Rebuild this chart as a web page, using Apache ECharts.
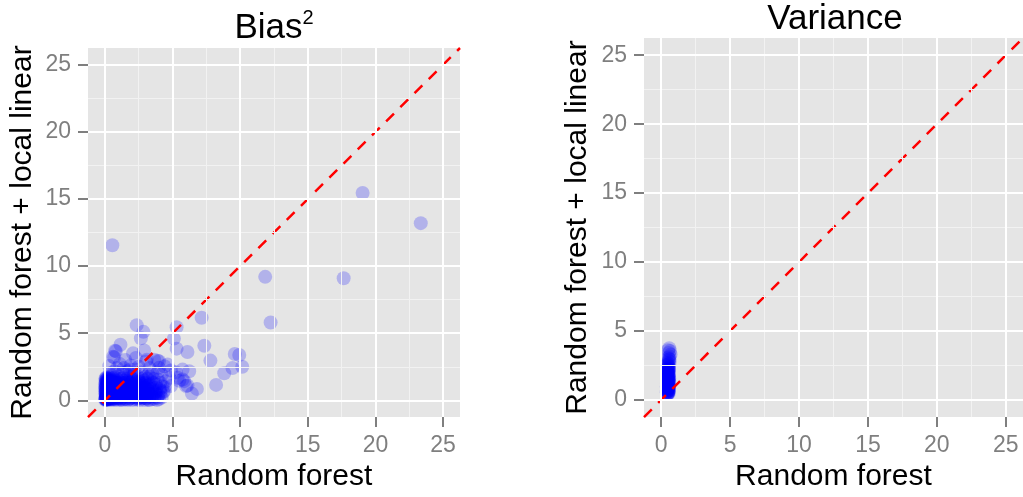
<!DOCTYPE html>
<html><head><meta charset="utf-8">
<script src="https://cdn.jsdelivr.net/npm/echarts@6/dist/echarts.min.js"></script>
<style>html,body{margin:0;padding:0;background:#fff}#c{width:1023px;height:497px}</style>
</head><body><div id="c"></div>
<script>
// ---- data ----
const panelTitles = ['Bias', 'Variance'];
const titleSup = '2';
const xTitle = 'Random forest';
const yTitle = 'Random forest + local linear';
const tickValues = [0, 5, 10, 15, 20, 25];
const minorValues = [2.5, 7.5, 12.5, 17.5, 22.5];
const axisMin = -1.25, axisMax = 26.25;
const refLine = [[-1.25, -1.25], [26.25, 26.25]];

const biasPoints = [
 // dense core
 [0.02,0.02],[0.05,0.1],[0.1,0.05],[0.15,0.15],[0.03,0.25],[0.2,0.3],[0.08,0.35],[0.25,0.1],[0.3,0.22],[0.12,0.45],
 [0.04,0.55],[0.22,0.5],[0.35,0.4],[0.18,0.62],[0.06,0.72],[0.28,0.7],[0.4,0.6],[0.14,0.82],[0.32,0.88],[0.05,0.95],
 [0.22,1.0],[0.45,0.85],[0.1,1.1],[0.3,1.12],[0.02,1.22],[0.18,1.3],[0.4,1.25],[0.08,1.42],[0.26,1.48],[0.12,1.6],
 [0.35,1.55],[0.5,0.05],[0.55,0.3],[0.45,0.2],[0.6,0.5],[0.52,0.72],[0.6,0.95],[0.5,1.1],[0.58,1.35],[0.48,1.5],
 [0.01,0.65],[0.16,0.02],[0.38,0.08],[0.07,0.18],[0.27,0.35],[0.42,0.45],[0.1,0.58],[0.34,0.65],[0.2,0.78],[0.03,0.85],
 [0.38,1.0],[0.15,1.18],[0.28,1.35],[0.05,1.5],[0.2,1.65],
 [0.08,0.08],[0.18,0.22],[0.28,0.05],[0.12,0.3],[0.35,0.28],[0.06,0.42],[0.24,0.6],[0.42,0.32],[0.16,0.9],[0.3,0.78],
 [0.44,0.7],[0.09,1.02],[0.26,1.2],[0.14,1.38],[0.36,1.4],[0.04,1.3],[0.02,0.12],[0.22,0.15],[0.4,0.15],[0.55,0.15],
 [0.1,0.22],[0.32,0.5],[0.5,0.4],[0.65,0.35],[0.02,1.02],[0.45,1.05],[0.58,1.2],[0.8,1.42],[0.62,1.62],[0.32,1.7],[0.1,1.7],
 [0.05,0.05],[0.15,0.08],[0.25,0.18],[0.35,0.12],[0.45,0.08],[0.12,0.28],[0.22,0.4],[0.32,0.32],[0.06,0.48],[0.16,0.52],
 [0.28,0.58],[0.38,0.5],[0.08,0.66],[0.2,0.7],[0.3,0.62],[0.42,0.78],[0.12,0.74],[0.24,0.88],[0.36,0.95],[0.06,0.88],
 [0.18,1.05],[0.3,1.02],[0.42,1.15],[0.08,1.22],[0.2,1.42],[0.34,1.28],[0.12,1.52],[0.25,1.58],[0.04,1.62],[0.4,1.62],
 [0.65,0.05],[0.7,0.2],[0.8,0.1],[0.75,0.4],[0.9,0.3],[0.85,0.6],[0.7,0.7],[1.0,0.15],[1.05,0.45],[0.95,0.8],
 [0.8,0.95],[1.15,0.05],[1.2,0.3],[1.1,0.7],[1.25,0.55],[1.3,0.9],[1.0,1.05],[0.85,1.2],[0.7,1.3],[1.15,1.2],
 [1.35,0.2],[1.4,0.5],[1.45,0.8],[1.3,1.3],[1.05,1.45],[0.9,1.55],[1.2,1.6],[1.45,1.15],[0.75,1.7],[1.0,1.8],
 [1.4,1.7],[0.68,0.55],[0.88,0.02],[1.28,0.02],[1.48,0.08],[0.78,0.82],[1.12,0.92],[0.95,1.3],[1.38,1.45],
 [0.62,0.15],[0.72,0.35],[0.82,0.25],[0.92,0.5],[0.66,0.85],[0.86,0.78],[1.02,0.6],[1.08,0.3],[1.22,0.15],[1.18,0.82],
 [0.76,1.05],[0.98,1.15],[1.32,0.42],[1.42,0.65],[1.36,1.05],[1.1,1.35],
 [0.55,0.6],[0.65,0.25],[0.75,0.12],[0.85,0.45],[0.95,0.15],[0.7,0.95],[0.9,1.05],[1.05,0.25],[1.15,0.55],[1.25,0.8],
 [0.6,1.45],[0.85,1.35],[1.15,1.05],[1.35,0.65],[1.45,0.35],[0.5,0.25],[0.6,0.7],[0.8,0.6],[1.0,0.4],[1.2,0.1],[1.4,0.95],
 [1.55,0.1],[1.7,0.3],[1.6,0.55],[1.85,0.15],[1.9,0.5],[1.75,0.8],[2.0,0.3],[2.1,0.7],[1.95,1.0],[1.65,1.1],
 [1.8,1.35],[2.2,0.1],[2.3,0.45],[2.25,0.9],[2.1,1.25],[2.4,0.75],[2.5,0.2],[2.55,1.05],[2.35,1.4],[2.0,1.6],
 [1.6,1.6],[2.65,0.5],[2.7,0.85],[2.6,1.35],[2.8,0.2],[2.9,0.6],[2.85,1.1],[2.45,1.75],[2.75,1.6],[2.95,0.02],
 [2.15,1.9],[1.75,1.85],[2.9,1.5],[2.6,0.02],[2.05,0.02],[1.7,0.02],[2.38,0.05],[1.58,0.85],[2.18,0.52],[2.48,0.45],
 [2.78,0.4],[2.95,0.95],
 [1.58,0.35],[1.68,0.6],[1.82,0.42],[1.98,0.65],[1.72,1.0],[1.88,1.2],[2.08,0.45],[2.28,0.25],[2.2,0.75],[2.42,0.95],
 [2.32,1.15],[2.58,0.7],[2.52,0.35],[2.68,0.25],[2.72,1.2],[2.85,0.85],[1.62,1.35],[2.02,1.4],[2.45,1.55],[1.92,1.75],
 [1.55,0.6],[1.65,0.2],[1.75,0.55],[1.85,0.95],[1.95,0.2],[2.05,0.55],[2.15,0.95],[2.25,0.35],[2.35,0.65],[2.45,0.15],
 [2.55,0.55],[2.65,0.85],[2.75,0.15],[2.85,0.5],[2.95,0.3],[1.5,1.3],[1.7,1.45],[1.9,1.3],[2.1,1.55],[2.3,1.3],
 [2.5,1.4],[2.7,1.05],[2.9,1.25],[1.6,0.75],[1.8,0.1],[2.0,0.85],[2.2,0.2],[2.4,0.35],[2.6,0.65],[2.8,0.7],
 [3.05,0.15],[3.15,0.5],[3.3,0.25],[3.1,0.85],[3.4,0.65],[3.25,1.15],[3.5,0.1],[3.6,0.45],[3.55,0.95],[3.7,0.25],
 [3.8,0.7],[3.4,1.4],[3.75,1.2],[3.95,0.4],[4.05,0.85],[3.15,1.6],[3.6,1.6],[4.2,0.2],[4.3,0.6],[3.9,1.55],
 [4.1,1.3],[3.3,0.02],[3.85,0.02],[4.4,1.0],[4.0,0.1],
 [3.02,0.4],[3.22,0.7],[3.12,1.05],[3.38,0.45],[3.48,0.85],[3.68,0.6],[3.82,0.95],[3.32,1.25],[3.58,1.3],[4.12,0.55],
 [4.25,1.05],[3.02,1.3],[2.98,1.75],[3.28,1.75],
 [3.0,0.15],[3.1,0.3],[3.2,0.05],[3.35,0.85],[3.45,0.3],[3.65,0.1],[3.75,0.5],[3.9,0.2],[4.1,0.7],
 // sparser halo
 [0.32,2.55],[0.69,2.17],[1.67,2.17],[0.81,3.65],[0.69,3.2],[1.15,4.14],[0.75,3.7],[0.6,3.25],[2.08,3.5],[2.9,3.72],
 [3.1,3.03],[3.89,2.95],[3.64,3.03],[2.29,3.16],[3.03,2.9],[1.4,2.4],[1.9,2.6],[1.1,2.7],[2.5,2.5],[2.2,2.3],
 [3.3,2.4],[3.5,2.0],[0.9,2.4],[1.5,3.0],[2.7,2.1],[3.2,1.9],[0.35,2.0],[0.55,1.85],[1.3,2.05],[1.85,2.3],
 [4.2,1.9],[3.9,2.1],[2.35,5.6],[2.85,5.1],[2.66,4.63],
 // mid range
 [5.3,5.45],[5.1,4.6],[5.3,3.85],[6.1,3.6],[7.35,4.07],[7.8,2.96],[9.6,3.45],[9.93,3.38],[9.43,2.4],[10.15,2.5],
 [8.82,2.02],[8.22,1.15],[6.8,0.85],[6.43,0.5],[6.23,2.17],[5.74,2.29],[5.25,2.1],[4.88,2.22],[4.4,2.54],[4.0,2.91],
 [5.74,1.55],[6.0,1.06],[5.37,1.68],[4.75,1.68],[4.5,1.43],[4.63,2.66],[4.0,2.42],[4.88,1.06],[4.38,0.69],[5.86,1.43],
 [6.1,1.1],[5.5,1.45],
 // outliers
 [0.55,11.55],[19.05,15.45],[23.35,13.2],[11.85,9.2],[17.65,9.1],[12.25,5.8],[7.15,6.15]
];

const variancePoints = [
 [0.45,0.42],[0.5,0.5],[0.4,0.55],[0.55,0.48],[0.48,0.62],[0.42,0.7],[0.56,0.68],[0.5,0.78],[0.45,0.85],[0.53,0.9],
 [0.4,0.95],[0.58,1.0],[0.5,1.05],[0.44,1.12],[0.55,1.15],[0.41,1.22],[0.58,1.28],[0.5,1.32],[0.46,1.4],[0.54,1.45],
 [0.42,1.5],[0.58,1.55],[0.5,1.6],[0.45,1.68],[0.55,1.72],[0.42,1.8],[0.56,1.85],[0.5,1.92],[0.46,2.0],[0.54,2.05],
 [0.44,2.12],[0.57,2.18],[0.5,2.25],[0.47,2.32],[0.55,2.4],[0.52,0.55],[0.47,0.72],[0.52,0.98],[0.47,1.25],[0.52,1.52],
 [0.48,1.78],[0.52,2.1],[0.43,0.6],[0.57,0.82],[0.44,1.02],[0.56,1.38],[0.43,1.62],[0.53,1.65],[0.49,0.45],[0.51,1.2],
 [0.46,1.95],[0.55,2.28],
 [0.47,0.5],[0.53,0.62],[0.44,0.78],[0.55,0.92],[0.48,1.08],[0.52,1.18],[0.45,1.35],[0.55,1.5],[0.48,1.6],[0.53,1.82],
 [0.46,2.05],[0.54,2.2],[0.5,0.65],[0.5,0.88],[0.5,1.42],[0.5,1.7],[0.5,2.0],[0.51,2.38],[0.49,2.6],[0.56,2.95],
 [0.5,2.5],[0.57,2.6],[0.48,2.7],[0.55,2.82],[0.6,2.95],[0.52,3.05],[0.6,3.15],[0.68,3.3],[0.55,3.4],[0.64,3.55],
 [0.5,3.6],[0.58,3.75],[0.45,2.55],[0.62,2.75]
];

// ---- chart ----
const FONT = '"Liberation Sans", Arial, Helvetica, sans-serif';
const grids = [
  {left: 88, top: 48, width: 372, height: 371},
  {left: 644, top: 38, width: 382, height: 382}
];
const yNameGap = [50, 51];

function axisCommon(i, isX) {
  return {
    type: 'value', gridIndex: i, min: axisMin, max: axisMax,
    name: isX ? xTitle : yTitle, nameLocation: 'middle',
    nameGap: isX ? 44 : yNameGap[i], nameRotate: isX ? 0 : 90,
    nameTextStyle: {fontSize: 30, color: '#000', fontFamily: FONT},
    axisLine: {show: true, onZero: false, lineStyle: {color: 'rgba(0,0,0,0)', width: 0}},
    axisTick: {show: true, inside: false, length: 10, customValues: tickValues, lineStyle: {color: '#7F7F7F', width: 2}},
    axisLabel: {show: true, customValues: tickValues, color: '#7F7F7F', fontSize: 23, fontFamily: FONT, margin: 17},
    splitLine: {show: false}, minorSplitLine: {show: false}
  };
}

const series = [];
[biasPoints, variancePoints].forEach((pts, i) => {
  const gridLines = [];
  minorValues.forEach(v => {
    gridLines.push({xAxis: v, lineStyle: {color: '#F2F2F2', width: 1, type: 'solid'}});
    gridLines.push({yAxis: v, lineStyle: {color: '#F2F2F2', width: 1, type: 'solid'}});
  });
  tickValues.forEach(v => {
    gridLines.push({xAxis: v, lineStyle: {color: '#FFFFFF', width: 2, type: 'solid'}});
    gridLines.push({yAxis: v, lineStyle: {color: '#FFFFFF', width: 2, type: 'solid'}});
  });
  series.push({
    type: 'line', xAxisIndex: i, yAxisIndex: i, data: [], z: 1, silent: true,
    markLine: {silent: true, symbol: ['none', 'none'], label: {show: false}, animation: false,
      emphasis: {disabled: true}, data: gridLines}
  });
  series.push({
    type: 'scatter', xAxisIndex: i, yAxisIndex: i, data: pts, z: 3,
    symbol: 'circle', symbolSize: 14, silent: true,
    itemStyle: {color: '#0000FF', opacity: 0.22, borderWidth: 0}
  });
  series.push({
    type: 'line', xAxisIndex: i, yAxisIndex: i, data: refLine, z: 4, silent: true,
    showSymbol: false, symbol: 'none',
    lineStyle: {color: '#FF0000', width: 2.5, type: [11, 9]}
  });
});

const chart = echarts.init(document.getElementById('c'), null, {renderer: 'canvas'});
chart.setOption({
  animation: false,
  backgroundColor: '#FFFFFF',
  textStyle: {fontFamily: FONT},
  title: [
    {text: '{b|' + panelTitles[0] + '}{s|' + titleSup + '}', left: 274, top: 8, textAlign: 'center', padding: 0,
     textStyle: {fontWeight: 'normal', rich: {
       b: {fontSize: 35, lineHeight: 40, color: '#000', fontFamily: FONT, fontWeight: 'normal', verticalAlign: 'middle'},
       s: {fontSize: 20, lineHeight: 20, color: '#000', fontFamily: FONT, fontWeight: 'normal', verticalAlign: 'top'}
     }}},
    {text: panelTitles[1], left: 835, top: 2, textAlign: 'center', padding: 0,
     textStyle: {fontSize: 35, color: '#000', fontFamily: FONT, fontWeight: 'normal'}}
  ],
  grid: grids.map(g => Object.assign({show: true, backgroundColor: '#E5E5E5', borderWidth: 0, containLabel: false}, g)),
  xAxis: [axisCommon(0, true), axisCommon(1, true)],
  yAxis: [axisCommon(0, false), axisCommon(1, false)],
  series: series
});
</script>
</body></html>
